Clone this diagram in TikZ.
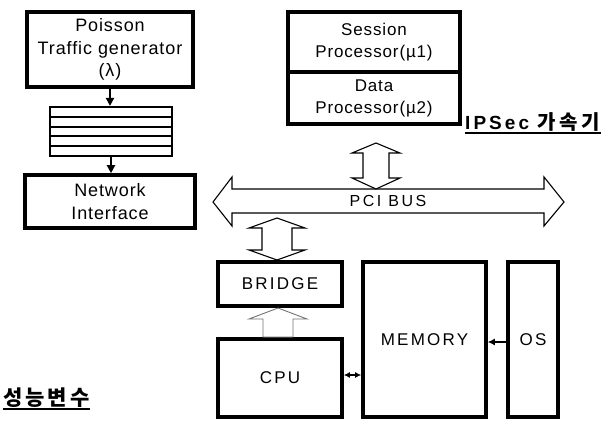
\documentclass[tikz,border=0pt]{standalone}
\usepackage{fontspec}
\setmainfont{Liberation Sans}
\newfontfamily\lsA{Liberation Sans}[LetterSpace=5]
\newfontfamily\lsB{Liberation Sans}[LetterSpace=13]
\newfontfamily\lsC{Liberation Sans}[LetterSpace=16]
\newfontfamily\krfont{Noto Sans CJK KR}
\usetikzlibrary{arrows.meta}
\begin{document}
\begin{tikzpicture}[x=1pt,y=-1pt,
  box/.style={draw, line width=3.6pt, inner sep=0pt, align=center},
  mixed/.style={font=\lsA\fontsize{17}{22}\selectfont},
  mixedL/.style={font=\lsA\fontsize{18}{22.5}\selectfont},
  capsf/.style={font=\lsB\fontsize{17}{21}\selectfont},
  hollow/.style={draw, line width=1.1pt, fill=white, line join=miter},
  tipline/.style={-{Triangle[length=8pt,width=8pt]}, line width=2pt},
]
\useasboundingbox[fill=white] (0,0) rectangle (616,425);

% left column
\node[box,mixedL,minimum width=166pt,minimum height=75pt] (poisson) at (110,49.5)
  {Poisson\\Traffic generator\\(λ)};
\node[draw,line width=2.2pt,minimum width=122pt,minimum height=49pt,inner sep=0pt] (queue) at (111,131.5) {};
\foreach \yy in {117,127,136,146}
  \draw[line width=2pt] (50,\yy) -- (172,\yy);
\node[box,mixedL,minimum width=170pt,minimum height=53pt] (netif) at (110,201.5)
  {Network\\Interface};
\draw[tipline] (poisson.south) -- (poisson.south |- queue.north);
\draw[tipline] (queue.south) -- (queue.south |- netif.north);

% IPSec accelerator
\node[box,mixed,minimum width=172pt,minimum height=60pt] (session) at (374,42)
  {Session\\Processor(µ1)};
\node[box,mixed,minimum width=172pt,minimum height=52pt] (data) at (374,98)
  {Data\\Processor(µ2)};
\node[anchor=base west,inner sep=0pt,font=\fontsize{19}{20}\selectfont] (ipsec) at (465,130)
  {{\lsC\bfseries IPSec}\hspace{8pt}{\krfont\bfseries\fontsize{20}{20}\selectfont 가\hspace{4pt}속\hspace{4pt}기}};
\draw[line width=2.2pt] ([yshift=-3pt]ipsec.base west) -- ([yshift=-3pt]ipsec.base east);

% PCI bus
\path[hollow] (213,202) -- (232,177) -- (232,189) -- (544,189) -- (544,177) -- (564,202)
  -- (544,226) -- (544,213) -- (232,213) -- (232,226) -- cycle;
\node[font=\lsC\fontsize{16}{18}\selectfont] (bus) at (388,201) {PCI BUS};

% accelerator <-> bus
\path[hollow] (376,143) -- (400,153) -- (389,153) -- (389,178) -- (400,178) -- (376,189)
  -- (352,178) -- (363,178) -- (363,153) -- (352,153) -- cycle;

% host side
\node[box,capsf,minimum width=124pt,minimum height=44pt] (bridge) at (280,284) {BRIDGE};
\node[box,capsf,minimum width=124pt,minimum height=78pt] (cpu) at (280,378) {CPU};
\node[box,capsf,minimum width=123pt,minimum height=155pt] (memory) at (424.5,339.5) {MEMORY};
\node[box,capsf,minimum width=50pt,minimum height=155pt] (os) at (533,339.5) {OS};

% bus <-> bridge
\path[hollow] (277,218) -- (305,228) -- (292,228) -- (292,250) -- (305,250) -- (277,260)
  -- (249,250) -- (262,250) -- (262,228) -- (249,228) -- cycle;

% cpu -> bridge
\path[hollow,draw=black!55,line width=0.9pt] (278,308) -- (307,319) -- (293,319) -- (293,337)
  -- (263,337) -- (263,319) -- (249,319) -- cycle;

\draw[{Latex[length=6pt,width=6pt]}-{Latex[length=6pt,width=6pt]},line width=1.5pt]
  ([yshift=3pt]cpu.east) -- ([yshift=3pt]cpu.east -| memory.west);
\draw[-{Latex[length=7pt,width=7pt]},line width=1.2pt]
  ([yshift=-2.5pt]os.west) -- ([yshift=-2.5pt]memory.east);

% performance variables label
\node[anchor=base west,inner sep=0pt,font=\krfont\bfseries\fontsize{21}{22}\selectfont] (perf) at (3,405)
  {성\hspace{3pt}능\hspace{3pt}변\hspace{3pt}수};
\draw[line width=2.2pt] ([yshift=-4pt]perf.base west) -- ([yshift=-4pt]perf.base east);
\end{tikzpicture}
\end{document}
